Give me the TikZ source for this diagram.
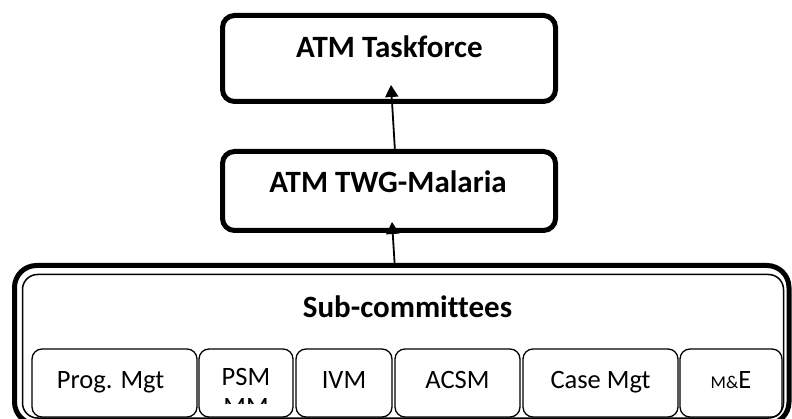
\documentclass[tikz,border=0pt]{standalone}
\usepackage{fontspec}
\setmainfont[Ligatures=NoCommon]{Carlito}
\usetikzlibrary{arrows.meta}
\begin{document}
\begin{tikzpicture}[x=1pt,y=-1pt,
  topbox/.style={draw, line width=5pt, rounded corners=12pt, minimum width=333pt, inner sep=0pt, outer sep=0pt},
  outerbox/.style={draw, line width=5pt, rounded corners=22pt, inner sep=0pt, outer sep=0pt, minimum width=774.5pt, minimum height=158.5pt},
  subbox/.style={draw, line width=1.3pt, rounded corners=10pt, inner sep=0pt, outer sep=0pt, minimum height=68pt},
  boldtxt/.style={font=\fontsize{31}{36}\selectfont\bfseries, anchor=base, inner sep=0pt},
  subtxt/.style={font=\fontsize{26.5}{30}\selectfont, anchor=base, inner sep=0pt, align=center},
  uparrow/.style={draw, line width=1.8pt, -{Triangle[width=13pt,length=12pt]}}
]
\useasboundingbox (0,0) rectangle (792,419);
\clip (0,0) rectangle (792,419);

% top boxes
\node[topbox, minimum height=86pt] (task) at (389,58.5) {};
\node[boldtxt] (tasktxt) at (389.5,58) {ATM Taskforce};
\node[topbox, minimum height=79pt] (twg) at (389,191) {};
\node[boldtxt] (twgtxt) at (388,193) {ATM TWG-Malaria};

% outer sub-committees box
\node[outerbox] (sub) at (401.75,344.75) {};
\draw[line width=1.5pt, rounded corners=15pt]
  ([shift={(8,9)}]sub.north west) rectangle ([shift={(-5.5,-6)}]sub.south east);
\node[boldtxt] (subtxt) at (407.5,318) {Sub-committees};

% sub boxes
\node[subbox, minimum width=165pt] (prog) at (114.5,383) {};
\node[subtxt] (progtxt) at (110.5,388) {Prog. Mgt};
\node[subbox, minimum width=94pt] (psm) at (246,383) {};
\begin{scope}
  \clip (199,349) rectangle (293,403);
  \node[subtxt, anchor=base] (psmtxt) at (246,385) {PSM};
  \node[subtxt, anchor=base] (mmtxt) at (246,415) {MM};
\end{scope}
\node[subbox, minimum width=96pt] (ivm) at (344,383) {};
\node[subtxt] (ivmtxt) at (344,388) {IVM};
\node[subbox, minimum width=125pt] (acsm) at (457.5,383) {};
\node[subtxt] (acsmtxt) at (457.5,388) {ACSM};
\node[subbox, minimum width=155pt] (case) at (600.5,383) {};
\node[subtxt] (casetxt) at (600.5,388) {Case Mgt};
\node[subbox, minimum width=102pt] (me) at (731,383) {};
\node[subtxt] (metxt) at (731,388) {{\fontsize{18}{20}\selectfont M\&}E};

% connectors
\draw[uparrow] ([xshift=6pt]twg.north) -- ([xshift=2pt,yshift=16.5pt]task.south);
\draw[uparrow] ([xshift=-7pt]sub.north) -- ([xshift=3pt,yshift=8.5pt]twg.south);
\end{tikzpicture}
\end{document}
